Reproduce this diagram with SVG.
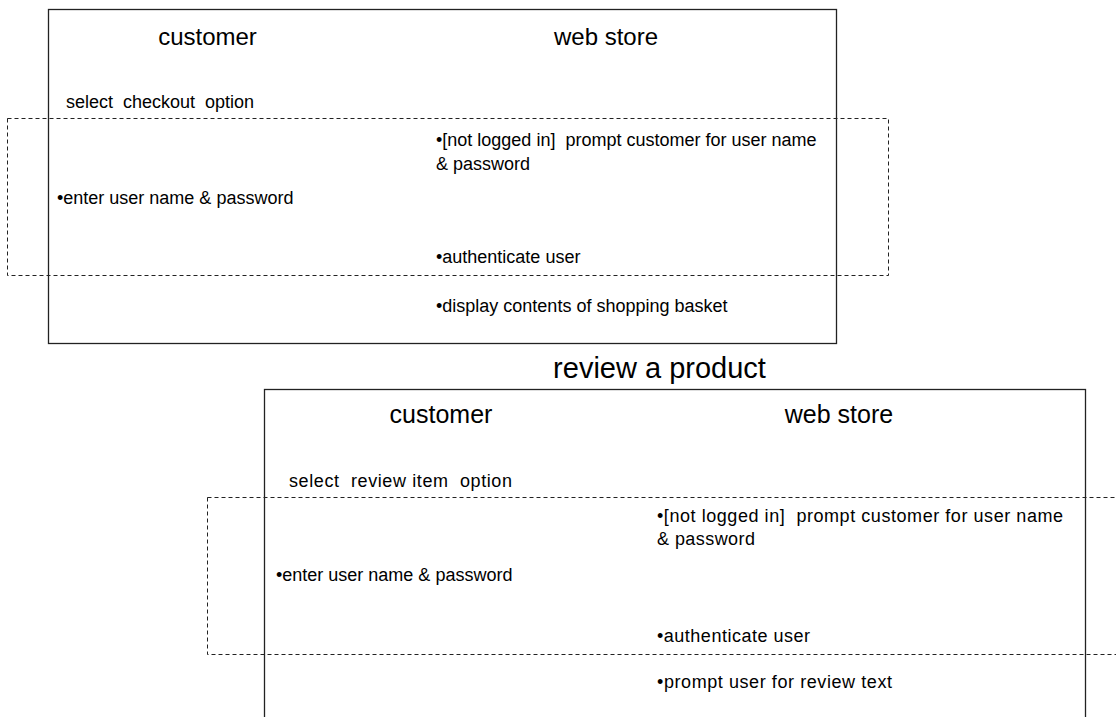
<svg xmlns="http://www.w3.org/2000/svg" width="1116" height="717" viewBox="0 0 1116 717">
<style>
text{font-family:"Liberation Sans",Arial,sans-serif;fill:#000;white-space:pre}
.h{font-size:24px;text-anchor:middle}
.h2{font-size:25px;text-anchor:middle}
.t{font-size:18px}
.title{font-size:29px;text-anchor:middle}
.box{fill:none;stroke:#222;stroke-width:1.3}
.dash{fill:none;stroke:#222;stroke-width:1;stroke-dasharray:4,3}
</style>
<rect width="1116" height="717" fill="#fff"/>
<g id="checkout">
<rect class="box" x="48.5" y="9.5" width="788" height="334"/>
<text class="h" x="207.5" y="45">customer</text>
<text class="h" x="606" y="45">web store</text>
<text class="t" x="66" y="108" xml:space="preserve">select  checkout  option</text>
<text class="t" x="57" y="204">•enter user name &amp; password</text>
<text class="t" x="436" y="146" xml:space="preserve">•[not logged in]  prompt customer for user name</text>
<text class="t" x="436" y="170">&amp; password</text>
<text class="t" x="436" y="263">•authenticate user</text>
<text class="t" x="436" y="312">•display contents of shopping basket</text>
</g>
<g id="review">
<text class="title" x="659.5" y="377.5">review a product</text>
<rect class="box" x="264.5" y="389.5" width="821" height="340"/>
<text class="h2" x="441" y="422.5">customer</text>
<text class="h2" x="839" y="422.5">web store</text>
<text class="t" x="289" y="486.5" xml:space="preserve" textLength="223" lengthAdjust="spacing">select  review item  option</text>
<text class="t" x="276" y="580.5">•enter user name &amp; password</text>
<text class="t" x="657" y="521.5" xml:space="preserve" textLength="406" lengthAdjust="spacing">•[not logged in]  prompt customer for user name</text>
<text class="t" x="657" y="545" textLength="98" lengthAdjust="spacing">&amp; password</text>
<text class="t" x="657" y="641.5" textLength="153" lengthAdjust="spacing">•authenticate user</text>
<text class="t" x="657" y="688" textLength="235" lengthAdjust="spacing">•prompt user for review text</text>
</g>
<g id="connectors">
<rect class="dash" x="7.5" y="118.5" width="881" height="157"/>
<rect class="dash" x="207.5" y="497.5" width="930" height="157"/>
</g>
</svg>
